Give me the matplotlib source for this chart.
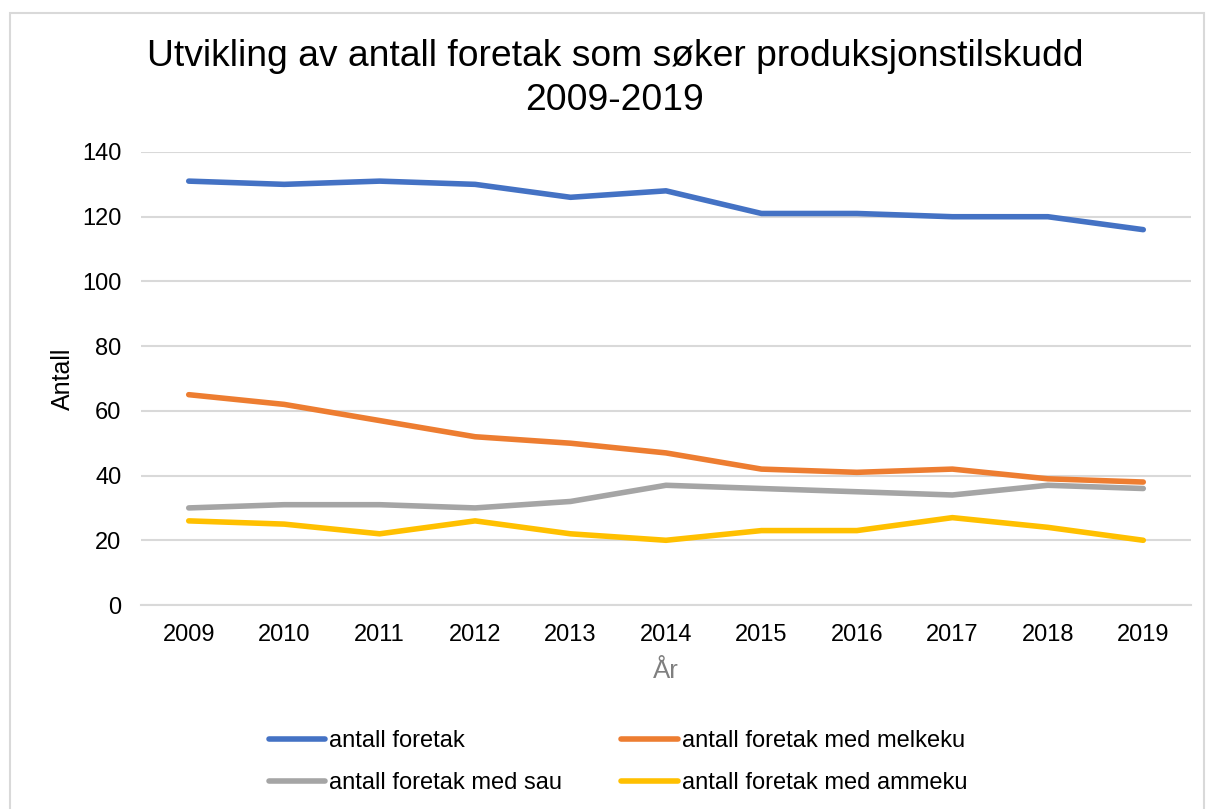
import matplotlib.pyplot as plt
from matplotlib.patches import Rectangle

plt.rcParams['font.family'] = ['Liberation Sans', 'DejaVu Sans']

# ------ Data ------#
years = ['2009', '2010', '2011', '2012', '2013', '2014', '2015', '2016', '2017', '2018', '2019']
foretak = [131, 130, 131, 130, 126, 128, 121, 121, 120, 120, 116]
melkeku = [65, 62, 57, 52, 50, 47, 42, 41, 42, 39, 38]
sau = [30, 31, 31, 30, 32, 37, 36, 35, 34, 37, 36]
ammeku = [26, 25, 22, 26, 22, 20, 23, 23, 27, 24, 20]
labels = ['antall foretak', 'antall foretak med melkeku',
          'antall foretak med sau', 'antall foretak med ammeku']
#------------------#

colors = ['#4472C4', '#ED7D31', '#A5A5A5', '#FFC000']

fig = plt.figure(figsize=(12.13, 8.09), dpi=100)
# chart frame like Excel
fig.patches.append(Rectangle((10/1213, -0.05), (1204-10)/1213, 1 - 13/809 + 0.05,
                             transform=fig.transFigure, fill=False,
                             edgecolor='#D9D9D9', linewidth=1.5))

ax = fig.add_axes([141/1213, (809-605)/809, 1050/1213, 453/809])
x = range(len(years))
handles = []
for vals, c, lab in zip([foretak, melkeku, sau, ammeku], colors, labels):
  h, = ax.plot(x, vals, color=c, linewidth=4, solid_capstyle='round',
               solid_joinstyle='round', label=lab)
  handles.append(h)

ax.set_xlim(-0.5, len(years) - 0.5)
ax.set_ylim(0, 140)
ax.set_yticks(range(0, 141, 20))
ax.set_xticks(list(x))
ax.set_xticklabels(years)
ax.yaxis.grid(True, color='#D9D9D9', linewidth=1.5)
ax.set_axisbelow(True)
for s in ['top', 'right', 'left']:
  ax.spines[s].set_visible(False)
ax.spines['bottom'].set_color('#D9D9D9')
ax.spines['bottom'].set_linewidth(1.5)
ax.tick_params(length=0, labelsize=17, colors='black')
ax.tick_params(axis='x', pad=14)
ax.tick_params(axis='y', pad=14)

ax.set_ylabel('Antall', fontsize=18, labelpad=5)
ax.set_xlabel('År', fontsize=18.5, color='#7F7F7F', labelpad=9)

fig.text(615/1213, 1 - 57/809, 'Utvikling av antall foretak som søker produksjonstilskudd',
         ha='center', va='center', fontsize=26.8)
fig.text(615/1213, 1 - 100/809, '2009-2019', ha='center', va='center', fontsize=26.8)

# row-major order for the 2-column legend
order = [0, 2, 1, 3]
fig.legend(handles=[handles[i] for i in order], loc='center', ncol=2, frameon=False,
           bbox_to_anchor=(618/1213, 1 - 762/809), fontsize=17,
           handlelength=2.4, handletextpad=0.17, columnspacing=2.5,
           labelspacing=0.85)

fig.savefig('out.png', dpi=100)
